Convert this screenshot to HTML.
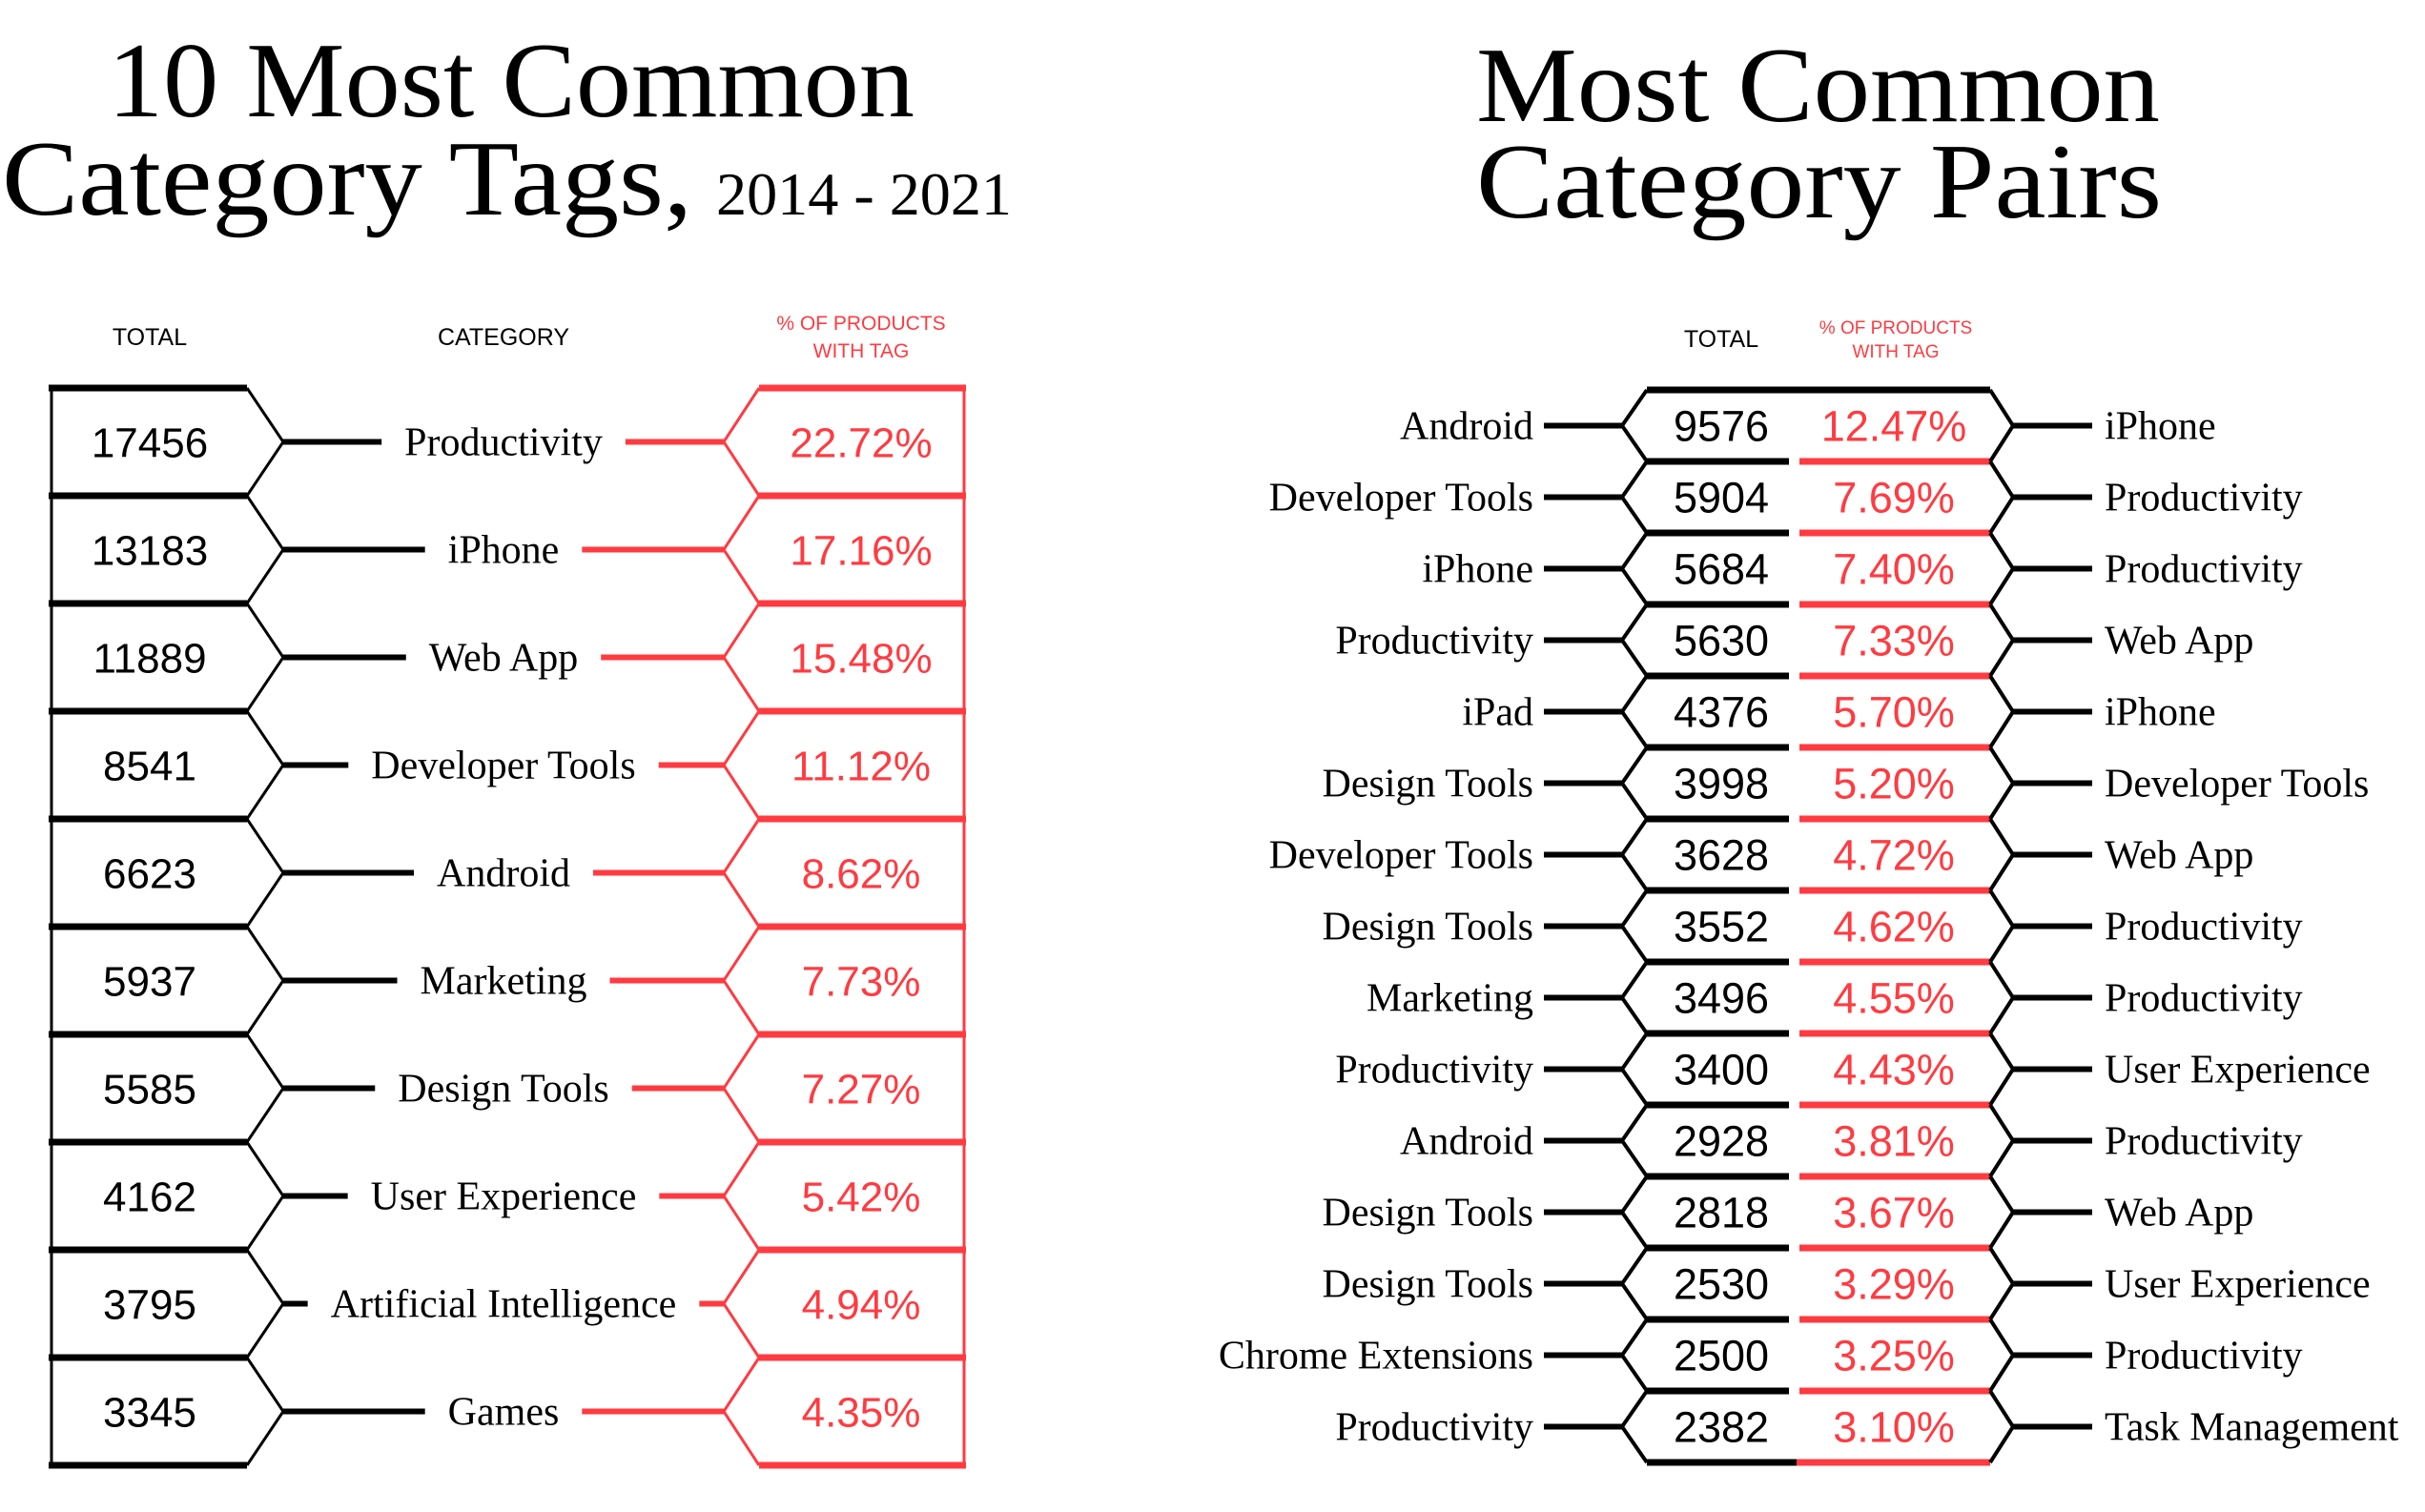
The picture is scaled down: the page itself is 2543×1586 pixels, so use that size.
<!DOCTYPE html>
<html><head><meta charset="utf-8"><style>
html,body{margin:0;padding:0;background:#fff;}
svg{display:block;}
</style></head><body>
<svg id="chart" width="2543" height="1586" viewBox="0 0 2543 1586" xmlns="http://www.w3.org/2000/svg">
<g font-family="Liberation Serif, serif" fill="#000">
<text x="113" y="122" font-size="112" textLength="846" lengthAdjust="spacingAndGlyphs">10 Most Common</text>
<text x="2" y="225" font-size="112" textLength="724" lengthAdjust="spacingAndGlyphs">Category Tags,</text>
<text x="751" y="225" font-size="64" textLength="310" lengthAdjust="spacingAndGlyphs">2014 - 2021</text>
</g>
<g font-family="Liberation Serif, serif" fill="#000">
<text x="1548" y="127" font-size="112" textLength="717" lengthAdjust="spacingAndGlyphs">Most Common</text>
<text x="1548" y="228" font-size="112" textLength="719" lengthAdjust="spacingAndGlyphs">Category Pairs</text>
</g>
<g id="left"></g>
<g id="right"></g>
</svg>
<script>
const tagCategories = ["Productivity","iPhone","Web App","Developer Tools","Android","Marketing","Design Tools","User Experience","Artificial Intelligence","Games"];
const tagTotals = [17456,13183,11889,8541,6623,5937,5585,4162,3795,3345];
const tagPercents = ["22.72%","17.16%","15.48%","11.12%","8.62%","7.73%","7.27%","5.42%","4.94%","4.35%"];

const pairLeft = ["Android","Developer Tools","iPhone","Productivity","iPad","Design Tools","Developer Tools","Design Tools","Marketing","Productivity","Android","Design Tools","Design Tools","Chrome Extensions","Productivity"];
const pairRight = ["iPhone","Productivity","Productivity","Web App","iPhone","Developer Tools","Web App","Productivity","Productivity","User Experience","Productivity","Web App","User Experience","Productivity","Task Management"];
const pairTotals = [9576,5904,5684,5630,4376,3998,3628,3552,3496,3400,2928,2818,2530,2500,2382];
const pairPercents = ["12.47%","7.69%","7.40%","7.33%","5.70%","5.20%","4.72%","4.62%","4.55%","4.43%","3.81%","3.67%","3.29%","3.25%","3.10%"];

const NS = "http://www.w3.org/2000/svg";
const RED = "#ff3b41";
function mk(parent, tag, attrs, text){
  const e = document.createElementNS(NS, tag);
  for (const k in attrs) e.setAttribute(k, attrs[k]);
  if (text !== undefined) e.textContent = text;
  parent.appendChild(e);
  return e;
}
const L = document.getElementById('left');
const R = document.getElementById('right');

// ---- left table ----
const lTop = 407, lRow = 113;
const ly = i => lTop + i * lRow;
let h;
h = mk(L,'text',{x:157,y:362,'font-size':25,'font-family':'Liberation Sans Narrow, Liberation Sans, sans-serif','text-anchor':'middle'},'TOTAL');


h = mk(L,'text',{x:528,y:362,'font-size':25,'font-family':'Liberation Sans Narrow, Liberation Sans, sans-serif','text-anchor':'middle'},'CATEGORY');


h = mk(L,'text',{x:903,y:346,'font-size':21,fill:RED,'font-family':'Liberation Sans Narrow, Liberation Sans, sans-serif','text-anchor':'middle'},'% OF PRODUCTS');


h = mk(L,'text',{x:903,y:375,'font-size':21,fill:RED,'font-family':'Liberation Sans Narrow, Liberation Sans, sans-serif','text-anchor':'middle'},'WITH TAG');



const nL = tagCategories.length;
let v = mk(L,'line',{x1:54,y1:ly(0),x2:54,y2:ly(nL),stroke:'#000','stroke-width':3});


v = mk(L,'line',{x1:1011,y1:ly(0),x2:1011,y2:ly(nL),stroke:RED,'stroke-width':3});


for (let i = 0; i <= nL; i++){
  const s1 = mk(L,'line',{x1:51,y1:ly(i),x2:259,y2:ly(i),stroke:'#000','stroke-width':7});
  
  
  const s2 = mk(L,'line',{x1:796,y1:ly(i),x2:1013,y2:ly(i),stroke:RED,'stroke-width':7});
  
  
}
for (let i = 0; i < nL; i++){
  const t = ly(i), m = t + lRow/2, b = ly(i+1);
  const g = mk(L,'g',{});
  
  
  const p1 = mk(g,'polyline',{points:`259,${t} 297,${m} 259,${b}`,fill:'none',stroke:'#000','stroke-width':3});
  
  
  const p2 = mk(g,'polyline',{points:`796,${t} 759,${m} 796,${b}`,fill:'none',stroke:RED,'stroke-width':3});
  
  
  const tt = mk(g,'text',{x:157,y:m+16,'font-size':44,'font-family':'Liberation Sans, sans-serif','text-anchor':'middle'},String(tagTotals[i]));
  
  
  const ct = mk(g,'text',{x:528,y:m+14,'font-size':42,'font-family':'Liberation Serif, serif','text-anchor':'middle'},tagCategories[i]);
  
  
  const pt = mk(g,'text',{x:903,y:m+16,'font-size':44,fill:RED,'font-family':'Liberation Sans, sans-serif','text-anchor':'middle'},tagPercents[i]);
  
  
  let w = 0;
  try { w = ct.getComputedTextLength(); } catch(e) { w = 0; }
  if (!w) w = tagCategories[i].length * 18;
  const c1 = mk(g,'line',{x1:297,y1:m,x2:Math.max(300,528 - w/2 - 24),y2:m,stroke:'#000','stroke-width':6});
  
  
  const c2 = mk(g,'line',{x1:Math.min(756,528 + w/2 + 24),y1:m,x2:759,y2:m,stroke:RED,'stroke-width':6});
  
  
}

// ---- right table ----
const rTop = 409, rRow = 75;
const ry = i => rTop + i * rRow;
h = mk(R,'text',{x:1805,y:364,'font-size':25,'font-family':'Liberation Sans Narrow, Liberation Sans, sans-serif','text-anchor':'middle'},'TOTAL');


h = mk(R,'text',{x:1988,y:350,'font-size':19,fill:RED,'font-family':'Liberation Sans Narrow, Liberation Sans, sans-serif','text-anchor':'middle'},'% OF PRODUCTS');


h = mk(R,'text',{x:1988,y:375,'font-size':19,fill:RED,'font-family':'Liberation Sans Narrow, Liberation Sans, sans-serif','text-anchor':'middle'},'WITH TAG');


const nR = pairTotals.length;
const topBorder = mk(R,'line',{x1:1727,y1:ry(0),x2:2087,y2:ry(0),stroke:'#000','stroke-width':7});


for (let i = 1; i <= nR; i++){
  const last = i === nR;
  const s1 = mk(R,'line',{x1:1727,y1:ry(i),x2:last?1884:1876,y2:ry(i),stroke:'#000','stroke-width':7});
  
  
  const s2 = mk(R,'line',{x1:last?1884:1887,y1:ry(i),x2:2087,y2:ry(i),stroke:RED,'stroke-width':7});
  
  
}
for (let i = 0; i < nR; i++){
  const t = ry(i), m = t + rRow/2, b = ry(i+1);
  const g = mk(R,'g',{});
  
  
  const p1 = mk(g,'polyline',{points:`1727,${t} 1701,${m} 1727,${b}`,fill:'none',stroke:'#000','stroke-width':4});
  
  
  const p2 = mk(g,'polyline',{points:`2087,${t} 2111,${m} 2087,${b}`,fill:'none',stroke:'#000','stroke-width':4});
  
  
  const c1 = mk(g,'line',{x1:1619,y1:m,x2:1701,y2:m,stroke:'#000','stroke-width':6});
  
  
  const c2 = mk(g,'line',{x1:2111,y1:m,x2:2194,y2:m,stroke:'#000','stroke-width':6});
  
  
  const lt = mk(g,'text',{x:1608,y:m+14,'font-size':42,'font-family':'Liberation Serif, serif','text-anchor':'end'},pairLeft[i]);
  
  
  const rt = mk(g,'text',{x:2207,y:m+14,'font-size':42,'font-family':'Liberation Serif, serif'},pairRight[i]);
  
  
  const tt = mk(g,'text',{x:1805,y:m+16,'font-size':45,'font-family':'Liberation Sans, sans-serif','text-anchor':'middle'},String(pairTotals[i]));
  
  
  const pt = mk(g,'text',{x:1986,y:m+16,'font-size':45,fill:RED,'font-family':'Liberation Sans, sans-serif','text-anchor':'middle'},pairPercents[i]);
  
  
}
</script>
</body></html>
